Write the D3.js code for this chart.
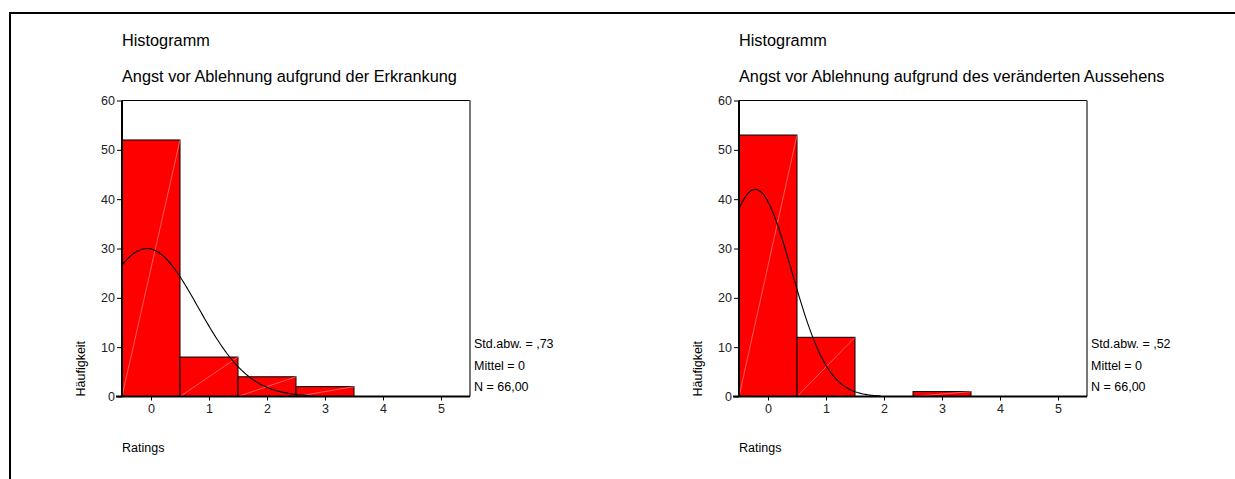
<!DOCTYPE html>
<html>
<head>
<meta charset="utf-8">
<script src="https://cdn.jsdelivr.net/npm/d3@7"></script>
<style>
body{margin:0;background:#fff;}
svg text{font-family:"Liberation Sans",Arial,sans-serif;fill:#000;}
</style>
</head>
<body>
<svg id="chart" width="1235" height="479"></svg>
<script>
// bins and counts
const ratings=[0,1,2,3,4,5];
const countsErkrankung=[52,8,4,2,0,0];
const countsAussehen=[53,12,0,1,0,0];
const yTicks=[0,10,20,30,40,50,60];
const titles=["Angst vor Ablehnung aufgrund der Erkrankung","Angst vor Ablehnung aufgrund des veränderten Aussehens"];
const statLines=[["Std.abw. = ,73","Mittel = 0","N = 66,00"],["Std.abw. = ,52","Mittel = 0","N = 66,00"]];
// normal curve as drawn: centre, spread, n, last x
const curveMean=[-0.07,-0.22];
const curveSd=[0.878,0.627];
const curveN=[66,66];
const curveEnd=[2.75,1.95];

const svg=d3.select('#chart');

// page frame (top and left only)
svg.append('path').attr('d','M10,480 L10,13 L1240,13').attr('fill','none')
.attr('stroke','#000').attr('stroke-width',2);

const plotW=348,plotH=296,plotTop=100.5;
const offsets=[122,739];

function drawHist(k,counts){
  const left=offsets[k];
  const g=svg.append('g');
  const x=d3.scaleLinear().domain([-0.5,5.5]).range([left,left+plotW]);
  const y=d3.scaleLinear().domain([0,60]).range([plotTop+plotH,plotTop]);

  g.append('text').attr('x',left).attr('y',45.5).style('font-size','16.3px').text('Histogramm');
  g.append('text').attr('x',left).attr('y',82).style('font-size','16.3px').text(titles[k]);

  // frame top + right
  g.append('line').attr('x1',x(-0.5)).attr('x2',x(5.5)).attr('y1',y(60)).attr('y2',y(60))
  .attr('stroke','#000').attr('stroke-width',1.2);
  g.append('line').attr('x1',x(5.5)).attr('x2',x(5.5)).attr('y1',y(60)).attr('y2',y(0))
  .attr('stroke','#777').attr('stroke-width',2);

  // bars
  const bars=g.selectAll('g.bar').data(ratings.map((r,i)=>({r:r,c:counts[i]})).filter(d=>d.c>0))
  .join('g').attr('class','bar');
  bars.append('rect').attr('x',d=>x(d.r-0.5)).attr('y',d=>y(d.c))
  .attr('width',d=>x(d.r+0.5)-x(d.r-0.5)).attr('height',d=>y(0)-y(d.c))
  .attr('fill','#ff0000').attr('stroke','#000').attr('stroke-width',1);
  bars.append('line').attr('x1',d=>x(d.r-0.5)).attr('y1',y(0))
  .attr('x2',d=>x(d.r+0.5)).attr('y2',d=>y(d.c))
  .attr('stroke','#ff9c9c').attr('stroke-width',0.6);

  // normal curve
  const m=curveMean[k],s=curveSd[k],n=curveN[k];
  const xs=d3.range(-0.5,curveEnd[k]+0.001,0.02);
  const line=d3.line().x(v=>x(v)).y(v=>y(n/(s*Math.sqrt(2*Math.PI))*Math.exp(-(v-m)*(v-m)/(2*s*s))));
  g.append('path').datum(xs).attr('d',line).attr('fill','none').attr('stroke','#000').attr('stroke-width',1.1);

  // axes
  const yAxis=d3.axisLeft(y).tickValues(yTicks).tickSize(5).tickPadding(2);
  const ya=g.append('g').attr('transform','translate('+x(-0.5)+',0)').call(yAxis);
  const xAxis=d3.axisBottom(x).tickValues(ratings).tickFormat(d3.format('d')).tickSize(4).tickPadding(4);
  const xa=g.append('g').attr('transform','translate(0,'+y(0)+')').call(xAxis);
  [ya,xa].forEach(a=>{
    a.select('.domain').attr('stroke','#000').attr('stroke-width',2);
    a.selectAll('text').style('font-size','12.5px').style('fill','#222').attr('font-family',null);
  });
  ya.select('.domain').attr('d','M0,'+(y(60))+'V'+y(0));
  xa.select('.domain').attr('d','M'+(x(-0.5)-6)+',0H'+x(5.5));

  g.append('text').attr('transform','translate('+(left-37)+','+y(0)+') rotate(-90)')
  .style('font-size','12.5px').text('Häufigkeit');
  g.append('text').attr('x',left).attr('y',452).style('font-size','12.5px').text('Ratings');

  g.selectAll('text.stat').data(statLines[k]).join('text').attr('class','stat')
  .attr('x',x(5.5)+4).attr('y',(d,i)=>348+i*21.5).style('font-size','12.5px').text(d=>d);
}

drawHist(0,countsErkrankung);
drawHist(1,countsAussehen);
</script>
</body>
</html>
